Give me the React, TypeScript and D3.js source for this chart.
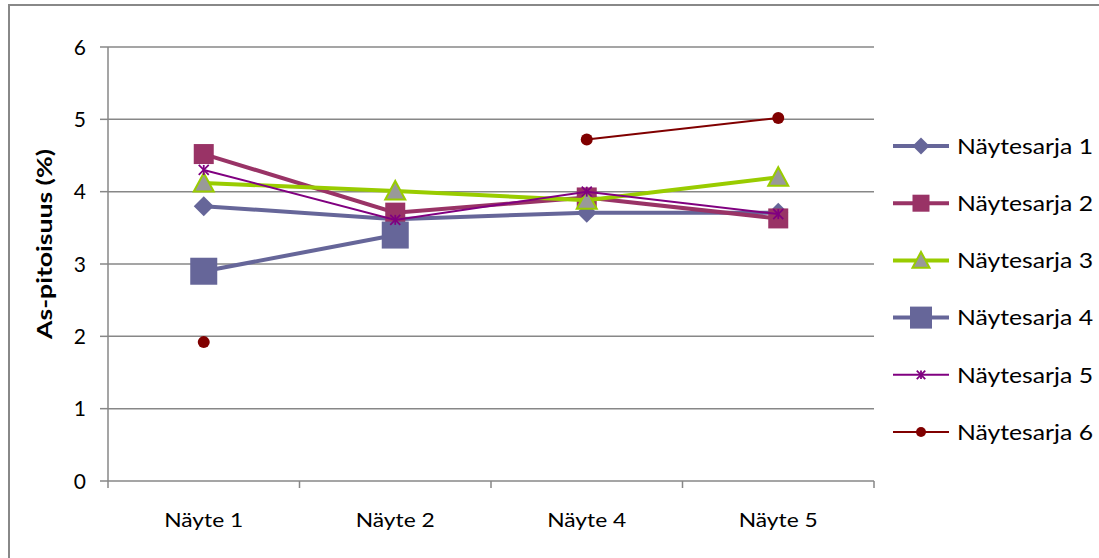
import React from "react";
import * as d3 from "d3";

const categories = ["Näyte 1", "Näyte 2", "Näyte 4", "Näyte 5"];
const yTicks = [0, 1, 2, 3, 4, 5, 6];
const seriesNames = ["Näytesarja 1", "Näytesarja 2", "Näytesarja 3", "Näytesarja 4", "Näytesarja 5", "Näytesarja 6"];
const s1 = [3.8, 3.62, 3.71, 3.71];
const s2 = [4.52, 3.71, 3.92, 3.63];
const s3 = [4.12, 4.01, 3.88, 4.2];
const s4: (number | null)[] = [2.9, 3.4, null, null];
const s5 = [4.3, 3.61, 4.0, 3.69];
const s6: (number | null)[] = [1.92, null, 4.72, 5.02];

const seriesValues = [s1, s2, s3, s4, s5, s6];
const styles = [
  { color: "#666699", width: 4, marker: "diamond", size: 10 },
  { color: "#993366", width: 4, marker: "square", size: 10 },
  { color: "#99CC00", width: 4, marker: "triangle", size: 10 },
  { color: "#666699", width: 4, marker: "bigsquare", size: 13.5 },
  { color: "#800080", width: 2, marker: "star", size: 5 },
  { color: "#800000", width: 2, marker: "circle", size: 6 },
];

const FONT = "Lato, 'Open Sans', sans-serif";

function Marker({ type, x, y, color, size }: { type: string; x: number; y: number; color: string; size: number }) {
  if (type === "diamond") {
    const s = size;
    return <path d={`M${x},${y - s}L${x + s},${y}L${x},${y + s}L${x - s},${y}Z`} fill={color} />;
  }
  if (type === "square" || type === "bigsquare") {
    return <rect x={x - size} y={y - size} width={size * 2} height={size * 2} fill={color} />;
  }
  if (type === "triangle") {
    const s = size;
    return (
      <path
        d={`M${x},${y - s}L${x + s},${y + s * 0.85}L${x - s},${y + s * 0.85}Z`}
        fill="#999999"
        stroke={color}
        strokeWidth={2}
      />
    );
  }
  if (type === "star") {
    const s = size;
    return (
      <g stroke={color} strokeWidth={1.8}>
        <line x1={x - s} y1={y - s} x2={x + s} y2={y + s} />
        <line x1={x - s} y1={y + s} x2={x + s} y2={y - s} />
        <line x1={x} y1={y - s} x2={x} y2={y + s} />
      </g>
    );
  }
  return <circle cx={x} cy={y} r={size} fill={color} />;
}

export default function App() {
  const left = 108, right = 874, top = 47, bottom = 481;
  const x = d3.scaleBand<string>().domain(categories).range([left, right]);
  const y = d3.scaleLinear().domain([0, 6]).range([bottom, top]);
  const cx = (c: string) => (x(c) as number) + x.bandwidth() / 2;

  const legendX1 = 893, legendX2 = 949;
  const legendY = d3.scaleLinear().domain([0, 5]).range([146, 432]);

  return (
    <svg width={1099} height={558} style={{ position: "absolute", left: 0, top: 0, background: "#fff" }}>
      <rect x={9} y={5} width={1200} height={600} fill="#fff" stroke="#888" strokeWidth={2} />
      {yTicks.map((t) => (
        <line key={"g" + t} x1={left} x2={right} y1={y(t)} y2={y(t)} stroke="#878787" strokeWidth={1.5} />
      ))}
      <line x1={left} x2={left} y1={top} y2={bottom} stroke="#878787" strokeWidth={1.5} />
      {yTicks.map((t) => (
        <g key={"yt" + t}>
          <line x1={left - 8} x2={left} y1={y(t)} y2={y(t)} stroke="#878787" strokeWidth={1.5} />
          <text x={86} y={y(t)} dy="0.37em" textAnchor="end" fontFamily={FONT} fontSize={21} fill="#000">
            {t}
          </text>
        </g>
      ))}
      {[...categories.map((c) => x(c) as number), right].map((v, i) => (
        <line key={"xt" + i} x1={v} x2={v} y1={bottom} y2={bottom + 7} stroke="#878787" strokeWidth={1.5} />
      ))}
      {categories.map((c) => (
        <text
          key={c}
          x={cx(c)}
          y={527}
          textAnchor="middle"
          fontFamily={FONT}
          fontSize={19.5}
          fill="#000"
          textLength={79}
          lengthAdjust="spacingAndGlyphs"
        >
          {c}
        </text>
      ))}
      <text
        transform={`translate(45,244) rotate(-90)`}
        textAnchor="middle"
        dy="0.35em"
        fontFamily={FONT}
        fontWeight="bold"
        fontSize={20}
        fill="#000"
        textLength={190}
        lengthAdjust="spacingAndGlyphs"
      >
        As-pitoisuus (%)
      </text>
      {seriesValues.map((vals, si) => {
        const st = styles[si];
        const line = d3
          .line<number | null>()
          .defined((d) => d !== null)
          .x((_, i) => cx(categories[i]))
          .y((d) => y(d as number));
        return (
          <g key={"s" + si}>
            <path d={line(vals) || ""} fill="none" stroke={st.color} strokeWidth={st.width} />
            {vals.map((v, i) =>
              v === null ? null : (
                <Marker key={i} type={st.marker} x={cx(categories[i])} y={y(v)} color={st.color} size={st.size} />
              )
            )}
          </g>
        );
      })}
      {seriesNames.map((n, i) => {
        const st = styles[i];
        const ly = legendY(i);
        const mx = (legendX1 + legendX2) / 2;
        return (
          <g key={n}>
            <line x1={legendX1} x2={legendX2} y1={ly} y2={ly} stroke={st.color} strokeWidth={st.width} />
            <Marker
              type={st.marker}
              x={mx}
              y={ly}
              color={st.color}
              size={st.marker === "bigsquare" ? 11 : st.marker === "circle" ? 5 : st.size * 0.85}
            />
            <text
              x={957}
              y={ly}
              dy="0.37em"
              fontFamily={FONT}
              fontSize={21}
              fill="#000"
              textLength={136}
              lengthAdjust="spacingAndGlyphs"
            >
              {n}
            </text>
          </g>
        );
      })}
    </svg>
  );
}
